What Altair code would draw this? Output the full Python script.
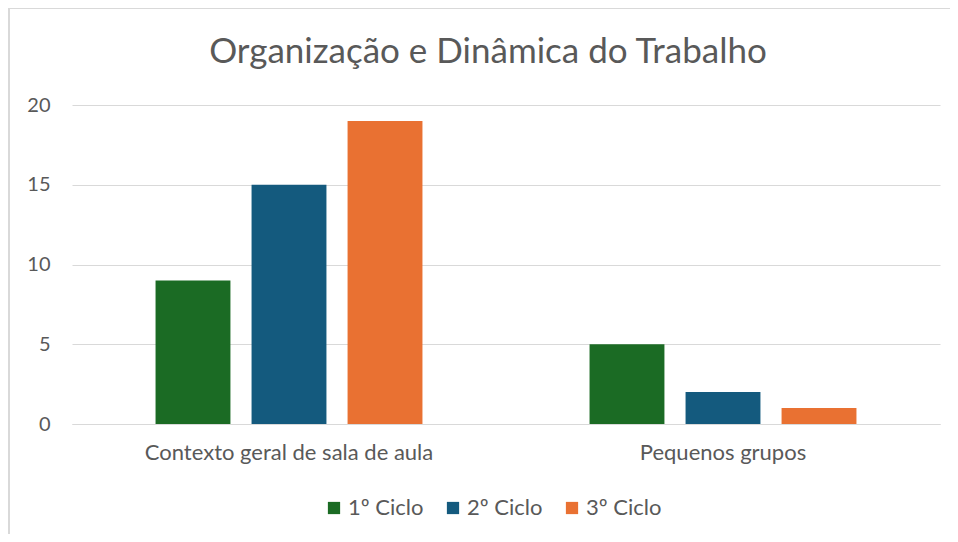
import altair as alt
import pandas as pd

categories = ["Contexto geral de sala de aula", "Pequenos grupos"]
series = ["1º Ciclo", "2º Ciclo", "3º Ciclo"]
values = {
    "1º Ciclo": [9, 5],
    "2º Ciclo": [15, 2],
    "3º Ciclo": [19, 1],
}
colors = ["#1b6b24", "#145a7e", "#e97132"]

rows = []
for s in series:
    for c, v in zip(categories, values[s]):
        rows.append({"Categoria": c, "Série": s, "Valor": v})
df = pd.DataFrame(rows)

FONT = "Lato"
GREY = "#595959"

bars = (
    alt.Chart(df)
    .mark_bar()
    .encode(
        x=alt.X(
            "Categoria:N",
            sort=categories,
            scale=alt.Scale(paddingInner=0.385, paddingOuter=0.1925),
            axis=alt.Axis(
                title=None, labelAngle=0, ticks=False, domain=True,
                domainColor="#d9d9d9", labelFontSize=22, labelColor=GREY,
                labelFont=FONT, labelPadding=18, labelLimit=0,
            ),
        ),
        xOffset=alt.XOffset(
            "Série:N", sort=series,
            scale=alt.Scale(paddingInner=0.22, paddingOuter=0),
        ),
        y=alt.Y(
            "Valor:Q",
            scale=alt.Scale(domain=[0, 20]),
            axis=alt.Axis(
                title=None, values=[0, 5, 10, 15, 20], ticks=False, domain=False,
                gridColor="#d9d9d9", gridWidth=1, labelFontSize=20,
                labelColor=GREY, labelFont=FONT, labelPadding=22,
            ),
        ),
        color=alt.Color(
            "Série:N", sort=series,
            scale=alt.Scale(domain=series, range=colors),
            legend=alt.Legend(
                title=None, orient="none", direction="horizontal",
                legendX=251, legendY=392,
                symbolType="square", symbolSize=150, symbolStrokeWidth=0,
                labelFontSize=22, labelColor=GREY, labelFont=FONT,
                labelOffset=3, columnPadding=18,
            ),
        ),
    )
)

frame = pd.DataFrame({"k": [0]})
top_rule = alt.Chart(frame).mark_rule(color="#d9d9d9", strokeWidth=2, clip=False).encode(
    x=alt.value(-64), x2=alt.value(890), y=alt.value(-97)
)
left_rule = alt.Chart(frame).mark_rule(color="#d9d9d9", strokeWidth=2, clip=False).encode(
    x=alt.value(-63), y=alt.value(-98), y2=alt.value(440)
)

chart = (
    alt.layer(bars, top_rule, left_rule)
    .properties(
        width=868,
        height=319,
        title=alt.TitleParams(
            "Organização e Dinâmica do Trabalho",
            fontSize=35, font=FONT, fontWeight="normal", color=GREY,
            anchor="middle", frame="group", offset=24, dx=-18, dy=88,
        ),
        autosize=alt.AutoSizeParams(type="none"),
        padding={"left": 64, "top": 97, "right": 10, "bottom": 110},
    )
    .configure_view(stroke=None)
)

chart.save("out.html", embed_options={"renderer": "svg", "actions": False})
